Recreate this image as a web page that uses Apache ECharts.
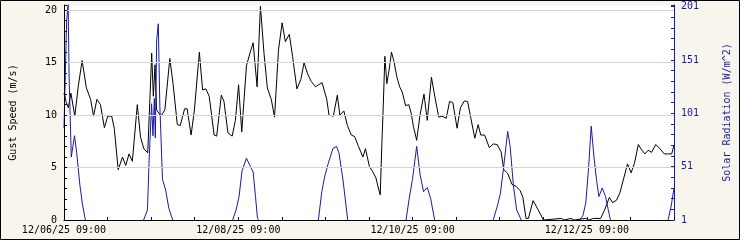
<!DOCTYPE html>
<html>
<head>
<meta charset="utf-8">
<script src="https://cdn.jsdelivr.net/npm/echarts@6/dist/echarts.min.js"></script>
<style>
html,body{margin:0;padding:0;background:#f7f5ec;}
#c{width:740px;height:240px;}
</style>
</head>
<body>
<div id="c"></div>
<script>
// Time axis: hours since 12/06/25 09:00
const startDate = new Date(2025, 11, 6, 9, 0);
const xLabelEveryHours = 48;

const gustHours = [0,0.65,1.19,1.90,2.98,3.91,4.99,6.16,7.33,8.14,
9.06,10.04,11.12,12.05,13.13,13.84,14.92,16.12,17.01,17.91,
18.83,20.19,21.08,21.98,23.06,23.61,24.15,24.61,25.07,25.50,
26.70,27.78,29.14,30.04,31.20,32.02,33.21,33.92,35.00,35.92,
37.28,38.17,39.07,39.99,41.35,42.05,43.33,44.06,45.15,46.31,
47.21,48.08,48.95,50.25,51.20,52.09,53.18,54.10,55.08,56.00,
57.09,57.98,59.07,60.07,60.97,62.05,62.95,64.14,65.23,66.12,
67.02,68.10,69.30,70.19,71.09,72.36,72.99,74.18,75.27,75.97,
77.06,78.06,79.14,80.04,81.13,82.32,83.03,84.11,85.03,85.93,
86.39,87.09,87.55,87.91,88.37,88.91,89.54,90.19,90.89,91.63,
92.44,93.17,94.07,94.96,95.61,96.24,97.13,98.05,99.14,100.04,
101.20,102.12,103.21,104.11,105.27,106.20,107.09,108.26,109.18,110.26,
111.16,112.05,113.14,114.06,114.77,115.85,117.13,118.21,119.30,120.38,
121.12,122.20,123.37,124.54,125.62,126.35,127.25,127.90,129.20,130.61,
132.05,136.93,137.74,139.64,140.46,143.71,144.52,145.80,147.78,
148.86,150.20,151.10,152.20,153.10,154.17,155.20,156.20,157.10,158.18,
159.05,160.00,160.87,161.82,162.98,163.99,165.34,166.45,167.37,168];

const gustValues = [12.1,11.2,10.7,12.1,9.9,12.7,15.2,12.6,11.5,9.9,
11.5,11.0,8.8,9.9,9.9,8.75,4.8,6.0,5.2,6.3,
5.6,11.0,7.9,6.8,6.4,11.1,15.9,11.8,14.8,10.5,
9.9,10.5,15.4,13.0,9.1,9.0,10.6,10.6,8.1,10.5,
16.0,12.4,12.5,11.8,8.1,8.0,11.9,11.3,8.3,8.0,
9.5,12.9,8.4,14.7,15.9,16.9,12.7,20.4,15.9,12.6,
11.5,9.8,16.2,18.8,17.0,17.7,15.6,12.5,13.4,15.0,
14.0,13.2,12.7,12.9,13.1,11.5,10.0,9.9,11.9,10.0,
10.4,9.0,8.1,7.95,7.0,6.0,6.8,5.1,4.6,4.0,
3.3,2.4,7.3,10.7,15.6,13.0,14.3,16.0,15.1,13.7,
12.7,12.2,10.9,11.0,10.2,8.9,7.6,10.0,12.0,9.5,
13.6,11.8,9.8,9.9,9.7,11.3,11.2,8.75,10.7,11.35,
11.3,9.7,7.8,9.1,8.1,8.1,6.9,7.25,7.2,6.5,
4.8,4.45,3.4,3.2,2.8,2.2,0.15,0.15,1.85,0.95,
0,0.15,0,0.15,0,0.15,0,0.15,0.15,
0.95,2.15,1.65,1.9,2.6,4.0,5.35,4.5,5.4,7.2,
6.7,6.3,6.65,6.45,7.2,6.85,6.3,6.3,6.3,7.15];

const solarHours = [0,0.73,1.14,1.41,2.01,2.44,2.90,3.53,4.40,5.07,5.89,
21.92,22.98,23.44,24.12,24.50,24.88,25.15,25.53,25.97,26.40,27.13,28.00,28.87,29.95,
46.45,47.40,48.21,49.03,50.25,51.20,52.09,52.74,53.29,53.64,
70.06,71.00,71.82,72.77,74.07,75.07,75.75,76.84,78.14,
94.20,95.02,95.97,97.13,98.05,99.03,100.04,100.99,102.07,
118.21,119.30,120.19,121.06,122.20,122.88,123.78,124.67,125.94,
141.95,142.90,143.71,144.52,145.20,145.96,146.69,147.32,148.24,149.14,149.87,150.50,
166.37,167.19,168];

const solarValues = [87,188,203,135,60,70,80,63,33,16,1,
1,10.4,57,110,80,115,78,170,185,108,39,29,12,1,
1,10.5,23,47,59,52,46,23,2.5,1,
1,27.6,42,54,68,70,63.5,38.5,1,
1,20,39,70,44,27.5,31.5,21,1,
1,13.5,26,50,84,70,33,10.4,1,
1,5,17,52,89,60,38,23,31,23,11,1,
1,13.5,30.7];

const gustTicks = [0,5,10,15,20];
const solarTicks = [1,51,101,151,201];

const BLUE = '#1a1aa0';
const FONT = 'DejaVu Sans Mono';

function pad(n){return (n<10?'0':'')+n;}
function fmtHour(h){
  const d = new Date(startDate.getTime() + h*3600000);
  return pad(d.getMonth()+1)+'/'+pad(d.getDate())+'/'+pad(d.getFullYear()%100)+' '+pad(d.getHours())+':'+pad(d.getMinutes());
}

const gustData = gustHours.map((h,i)=>[h,gustValues[i]]);
// night stretches (value at floor on both ends) are left undrawn
const solarData = [];
solarHours.forEach((h,i)=>{
  solarData.push([h,solarValues[i]]);
  if (i < solarHours.length-1 && solarValues[i]===1 && solarValues[i+1]===1) {
    solarData.push([(h+solarHours[i+1])/2,'-']);
  }
});

const chart = echarts.init(document.getElementById('c'), null, {renderer:'canvas'});
const TR = 'rgba(0,0,0,0)';
chart.setOption({
  animation:false,
  backgroundColor:'#f7f5ec',
  textStyle:{fontFamily:FONT},
  grid:{left:60,right:60,top:5,bottom:20,show:true,backgroundColor:'#ffffff',borderWidth:0},
  xAxis:{
    type:'value',min:0,max:168,interval:12,z:10,
    axisLine:{show:true,lineStyle:{color:'#000',width:1}},
    axisTick:{show:true,inside:true,length:3,lineStyle:{color:'#000'}},
    splitLine:{show:false},
    axisLabel:{margin:5,color:'#000',fontFamily:FONT,fontSize:10,
      formatter:function(v){return (Math.abs(v % xLabelEveryHours) < 1e-6) ? fmtHour(v) : '';}}
  },
  yAxis:[{
    type:'value',min:0,max:20.5,interval:1,position:'left',z:10,
    name:'Gust Speed (m/s)',nameLocation:'middle',nameRotate:90,nameGap:46,
    nameTextStyle:{color:'#000',fontFamily:FONT,fontSize:10},
    axisLine:{show:true,lineStyle:{color:'#000',width:1}},
    axisTick:{show:true,inside:true,length:3,lineStyle:{color:'#000'}},
    splitLine:{show:true,lineStyle:{color:['#d4d4d4',TR,TR,TR,TR],width:1}},
    axisLabel:{margin:7,color:'#000',fontFamily:FONT,fontSize:10,
      formatter:function(v){return gustTicks.indexOf(Math.round(v*100)/100)>=0 ? String(v) : '';}}
  },{
    type:'value',min:1,max:202.6,interval:10,position:'right',z:10,
    name:'Solar Radiation (W/m^2)',nameLocation:'middle',nameRotate:90,nameGap:48,
    nameTextStyle:{color:BLUE,fontFamily:FONT,fontSize:10},
    axisLine:{show:true,lineStyle:{color:BLUE,width:1}},
    axisTick:{show:true,inside:true,length:3,lineStyle:{color:BLUE}},
    splitLine:{show:false},
    axisLabel:{margin:7,color:BLUE,fontFamily:FONT,fontSize:10,
      formatter:function(v){return solarTicks.indexOf(Math.round(v*100)/100)>=0 ? String(v) : '';}}
  }],
  graphic:[{type:'rect',z:100,silent:true,shape:{x:0.5,y:0.5,width:739,height:239},style:{fill:null,stroke:'#000',lineWidth:1}}],
  series:[{
    type:'line',yAxisIndex:0,data:gustData,showSymbol:false,symbol:'none',
    lineStyle:{color:'#000',width:1},itemStyle:{color:'#000'},z:2
  },{
    type:'line',yAxisIndex:1,data:solarData,showSymbol:false,symbol:'none',connectNulls:false,
    lineStyle:{color:BLUE,width:1},itemStyle:{color:BLUE},z:3
  }]
});
</script>
</body>
</html>
